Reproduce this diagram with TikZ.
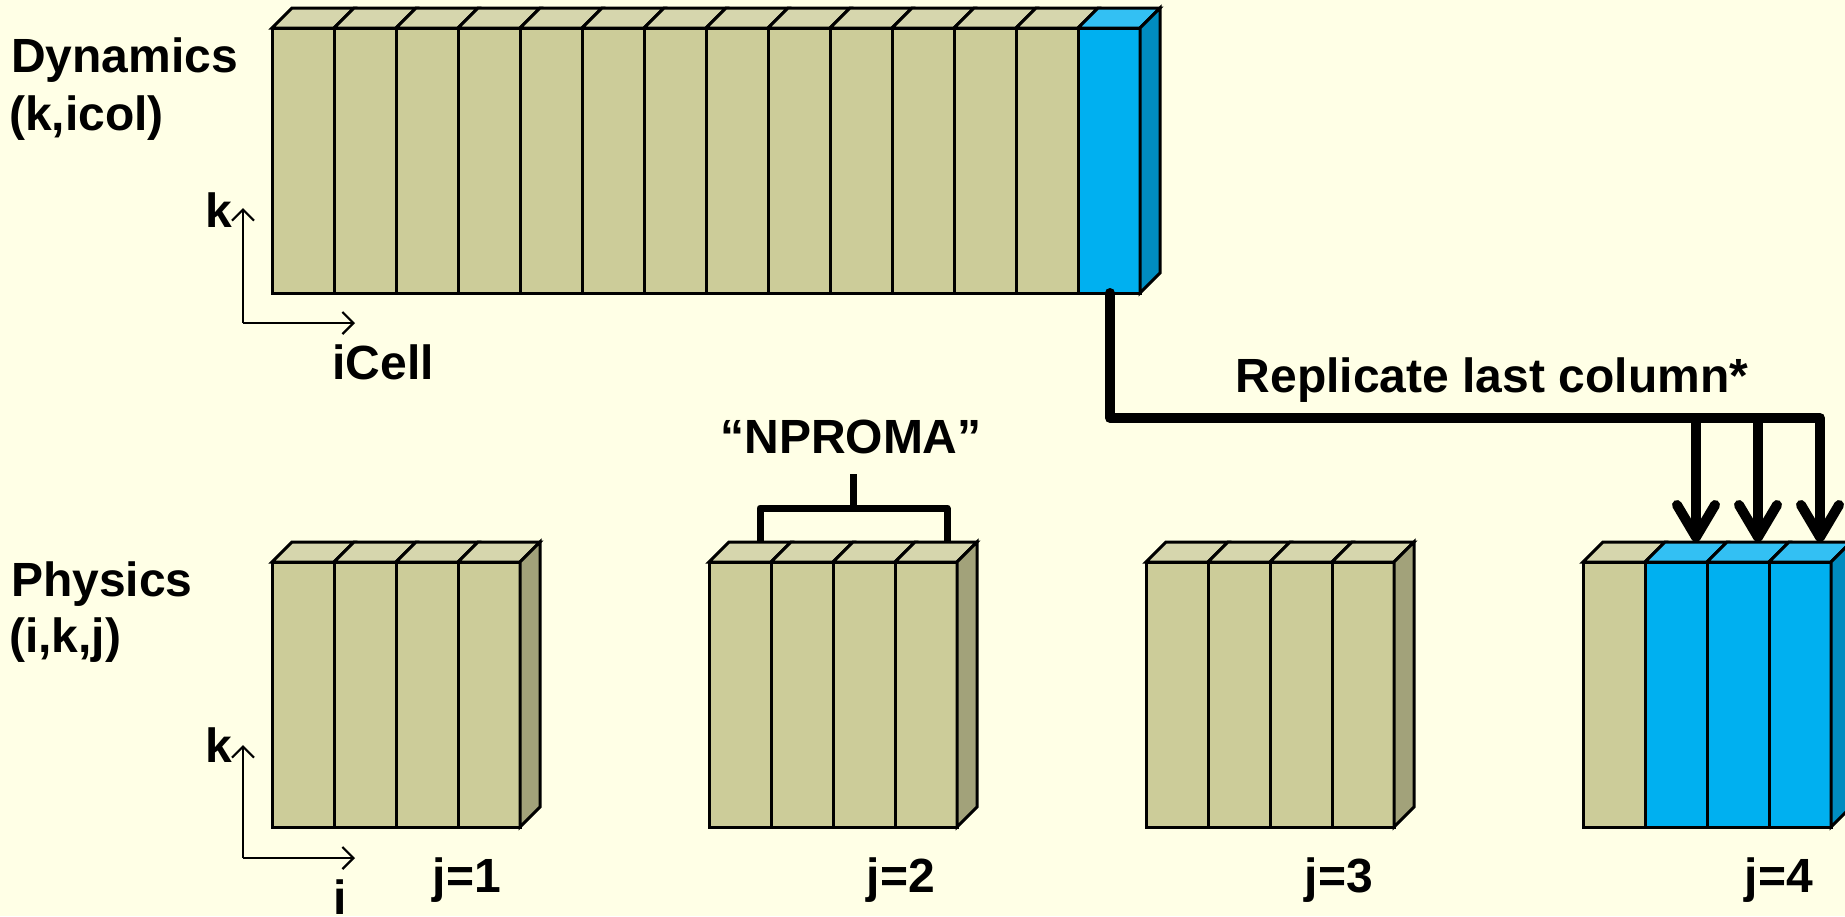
\documentclass[tikz,border=0pt]{standalone}
\usepackage{fontspec}
\setmainfont{Liberation Sans}
\usetikzlibrary{arrows.meta}
\definecolor{bg}{RGB}{255,255,230}
\definecolor{khaki}{RGB}{204,204,153}
\definecolor{khakitop}{RGB}{214,214,173}
\definecolor{khakiside}{RGB}{162,162,122}
\definecolor{cyanf}{RGB}{0,176,240}
\definecolor{cyantop}{RGB}{51,192,243}
\definecolor{cyanside}{RGB}{0,140,192}
\newcommand\mycell[5]{%
  \filldraw[edge,fill=#5] (#1,#2) -- ++(20,-20) -- ++(62,0) -- ++(-20,20) -- cycle;
  \filldraw[edge,fill=#4] (#1,#2) rectangle ++(62,#3);
}
\newcommand\myside[4]{%
  \filldraw[edge,fill=#4] (#1,#2) -- ++(20,-20) -- ++(0,#3) -- ++(-20,20) -- cycle;
}
\begin{document}
\begin{tikzpicture}[x=1pt,y=-1pt,
  edge/.style={draw=black,line width=3pt,line join=miter},
  lbl/.style={font=\bfseries\fontsize{48}{58}\selectfont,inner sep=0pt},
  axisline/.style={line width=2.2pt,-{Straight Barb[length=11pt,width=22pt,line width=2.2pt]}},
  bigline/.style={line width=10pt,line join=round,line cap=round},
  bigarrow/.style={bigline,-{Straight Barb[length=32pt,width=38pt,round]}},
  bracketline/.style={line width=7pt,line join=round,line cap=butt}]
\fill[bg] (0,0) rectangle (1845,916);
\useasboundingbox (0,0) rectangle (1845,916);

% Dynamics block
\foreach \i in {0,...,12} {\mycell{272+62*\i}{28}{265}{khaki}{khakitop}}
\mycell{1078}{28}{265}{cyanf}{cyantop}
\myside{1140}{28}{265}{cyanside}
\coordinate (dynbot) at (1110,293);

% Physics blocks
\foreach \x in {272,709,1146} {
  \foreach \i in {0,...,3} {\mycell{\x+62*\i}{562}{265}{khaki}{khakitop}}
  \myside{\x+248}{562}{265}{khakiside}
}
\mycell{1583}{562}{265}{khaki}{khakitop}
\foreach \i in {1,...,3} {\mycell{1583+62*\i}{562}{265}{cyanf}{cyantop}}
\myside{1831}{562}{265}{cyanside}

% Labels
\node[lbl,anchor=base west] (dyn) at (11,72) {Dynamics};
\node[lbl,anchor=base west] (dynidx) at (9,130) {(k,icol)};
\node[lbl,anchor=base west] (phys) at (11,596) {Physics};
\node[lbl,anchor=base west] (physidx) at (9,652) {(i,k,j)};

% Dynamics axes
\coordinate (o1) at (243,323);
\coordinate (o1k) at (243,208);
\coordinate (o1i) at (355,323);
\draw[axisline] (o1) -- (o1k);
\draw[axisline] (o1) -- (o1i);
\node[lbl] (k1) at (219,210) {k};
\node[lbl] (icell) at (383,362) {iCell};

% Physics axes
\coordinate (o2) at (243,858);
\coordinate (o2k) at (243,745);
\coordinate (o2i) at (355,858);
\draw[axisline] (o2) -- (o2k);
\draw[axisline] (o2) -- (o2i);
\node[lbl] (k2) at (219,745) {k};
\node[lbl,anchor=base] (i2) at (340,914) {i};

% j labels
\node[lbl,anchor=base] (j1) at (467,892) {j=1};
\node[lbl,anchor=base] (j2) at (901,892) {j=2};
\node[lbl,anchor=base] (j3) at (1339,892) {j=3};
\node[lbl,anchor=base] (j4) at (1779,892) {j=4};

% NPROMA bracket
\node[lbl] (nproma) at (851,437) {“NPROMA”};
\coordinate (bl) at (760,542);
\coordinate (br) at (947,542);
\coordinate (bstem) at (853,474);
\draw[bracketline] (bl) -- (760,508) -- (947,508) -- (br);
\draw[bracketline] (853,508) -- (bstem);

% Replicate connector
\node[lbl] (rep) at (1492,380) {Replicate last column*};
\coordinate (t2) at (1696,542);
\coordinate (t3) at (1758,542);
\coordinate (t4) at (1820,542);
\draw[bigarrow] (dynbot) -- (1110,418) -- (1820,418) -- (t4);
\draw[bigarrow] (1696,418) -- (t2);
\draw[bigarrow] (1758,418) -- (t3);
\end{tikzpicture}
\end{document}
